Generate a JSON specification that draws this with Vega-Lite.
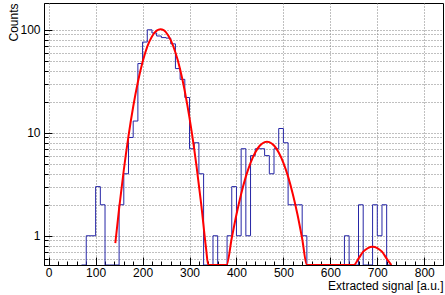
{
  "$schema": "https://vega.github.io/schema/vega-lite/v6.json",
  "width": 399,
  "height": 262,
  "autosize": {"type": "none"},
  "padding": {"left": 44, "top": 3, "right": 2, "bottom": 30},
  "background": "white",
  "config": {
    "view": {"stroke": "black", "strokeWidth": 1},
    "font": "Liberation Sans",
    "axis": {
      "labelFont": "Liberation Sans",
      "titleFont": "Liberation Sans",
      "labelFontSize": 12,
      "titleFontSize": 12,
      "titleFontWeight": "normal",
      "labelColor": "black",
      "titleColor": "black",
      "tickColor": "black",
      "domainColor": "black",
      "gridColor": "#808080",
      "gridDash": [1, 2],
      "gridWidth": 1,
      "gridOpacity": 1
    }
  },
  "datasets": {
    "hist": [
      {"signal": 70, "counts": 0}, {"signal": 80, "counts": 1}, {"signal": 90, "counts": 1},
      {"signal": 100, "counts": 3}, {"signal": 110, "counts": 2}, {"signal": 120, "counts": 0},
      {"signal": 130, "counts": 0}, {"signal": 140, "counts": 0}, {"signal": 150, "counts": 2},
      {"signal": 160, "counts": 4}, {"signal": 170, "counts": 9}, {"signal": 180, "counts": 13},
      {"signal": 190, "counts": 47}, {"signal": 200, "counts": 76}, {"signal": 210, "counts": 100},
      {"signal": 220, "counts": 93}, {"signal": 230, "counts": 87}, {"signal": 240, "counts": 84},
      {"signal": 250, "counts": 83}, {"signal": 260, "counts": 73}, {"signal": 270, "counts": 42},
      {"signal": 280, "counts": 33}, {"signal": 290, "counts": 22}, {"signal": 300, "counts": 7},
      {"signal": 310, "counts": 8}, {"signal": 320, "counts": 4}, {"signal": 330, "counts": 0},
      {"signal": 340, "counts": 0}, {"signal": 350, "counts": 1}, {"signal": 360, "counts": 0},
      {"signal": 370, "counts": 0}, {"signal": 380, "counts": 1}, {"signal": 390, "counts": 3},
      {"signal": 400, "counts": 1}, {"signal": 410, "counts": 7}, {"signal": 420, "counts": 1},
      {"signal": 430, "counts": 6}, {"signal": 440, "counts": 7}, {"signal": 450, "counts": 7},
      {"signal": 460, "counts": 6}, {"signal": 470, "counts": 4}, {"signal": 480, "counts": 7},
      {"signal": 490, "counts": 11}, {"signal": 500, "counts": 8}, {"signal": 510, "counts": 2},
      {"signal": 520, "counts": 2}, {"signal": 530, "counts": 2}, {"signal": 540, "counts": 1},
      {"signal": 550, "counts": 0}, {"signal": 560, "counts": 0}, {"signal": 570, "counts": 0},
      {"signal": 580, "counts": 0}, {"signal": 590, "counts": 0}, {"signal": 600, "counts": 0},
      {"signal": 610, "counts": 0}, {"signal": 620, "counts": 0}, {"signal": 630, "counts": 1},
      {"signal": 640, "counts": 0}, {"signal": 650, "counts": 0}, {"signal": 660, "counts": 2},
      {"signal": 670, "counts": 0}, {"signal": 680, "counts": 0}, {"signal": 690, "counts": 2},
      {"signal": 700, "counts": 1}, {"signal": 710, "counts": 2}, {"signal": 720, "counts": 0},
      {"signal": 730, "counts": 0}
    ],
    "fit": [
      {"signal": 142, "f": 0.85}, {"signal": 150, "f": 1.83}, {"signal": 160, "f": 4.35},
      {"signal": 170, "f": 9.29}, {"signal": 180, "f": 17.9}, {"signal": 190, "f": 31.1},
      {"signal": 200, "f": 48.6}, {"signal": 210, "f": 68.5}, {"signal": 220, "f": 86},
      {"signal": 230, "f": 98}, {"signal": 238, "f": 101}, {"signal": 245, "f": 99},
      {"signal": 255, "f": 87.5}, {"signal": 265, "f": 70}, {"signal": 275, "f": 50.5},
      {"signal": 285, "f": 32.7}, {"signal": 295, "f": 19}, {"signal": 305, "f": 9.96},
      {"signal": 315, "f": 4.71}, {"signal": 325, "f": 2.01}, {"signal": 335, "f": 0.77},
      {"signal": 340, "f": 0.46}, {"signal": 350, "f": 0.15}, {"signal": 365, "f": 0.1},
      {"signal": 372, "f": 0.28}, {"signal": 379, "f": 0.52}, {"signal": 390, "f": 0.95},
      {"signal": 400, "f": 1.61}, {"signal": 410, "f": 2.55}, {"signal": 420, "f": 3.75},
      {"signal": 430, "f": 5.11}, {"signal": 440, "f": 6.44}, {"signal": 450, "f": 7.52},
      {"signal": 460, "f": 8.12}, {"signal": 465, "f": 8.2}, {"signal": 470, "f": 8.12},
      {"signal": 480, "f": 7.52}, {"signal": 490, "f": 6.44}, {"signal": 500, "f": 5.11},
      {"signal": 510, "f": 3.75}, {"signal": 520, "f": 2.55}, {"signal": 530, "f": 1.61},
      {"signal": 540, "f": 0.935}, {"signal": 550, "f": 0.505}, {"signal": 560, "f": 0.25},
      {"signal": 600, "f": 0.05}, {"signal": 640, "f": 0.38}, {"signal": 650, "f": 0.5},
      {"signal": 660, "f": 0.6}, {"signal": 670, "f": 0.7}, {"signal": 680, "f": 0.76},
      {"signal": 690, "f": 0.78}, {"signal": 700, "f": 0.76}, {"signal": 710, "f": 0.7},
      {"signal": 720, "f": 0.6}, {"signal": 730, "f": 0.5}
    ]
  },
  "layer": [
    {
      "data": {"name": "hist"},
      "mark": {"type": "line", "interpolate": "step-after", "color": "#2626a6", "strokeWidth": 1, "invalid": "show", "clip": true},
      "encoding": {
        "x": {
          "field": "signal", "type": "quantitative",
          "scale": {"domain": [-10, 840], "nice": false, "zero": false},
          "axis": {
            "orient": "bottom",
            "values": [0, 100, 200, 300, 400, 500, 600, 700, 800],
            "format": "d",
            "title": "Extracted signal [a.u.]",
            "titleAnchor": "end", "titleAlign": "right", "titleBaseline": "alphabetic",
            "titleX": 399, "titleY": 24,
            "tickSize": -8, "labelPadding": 10,
            "grid": true, "labelFlush": false, "labelOverlap": false
          }
        },
        "y": {
          "field": "counts", "type": "quantitative",
          "scale": {"type": "log", "domain": [0.52, 182], "nice": false, "clamp": true},
          "axis": {
            "orient": "left",
            "values": [1, 10, 100],
            "format": "d",
            "title": "Counts",
            "titleAngle": -90, "titleAlign": "right", "titleBaseline": "alphabetic",
            "titleX": -27, "titleY": 0,
            "tickSize": -8, "labelPadding": 12,
            "grid": true, "labelFlush": false, "labelOverlap": false
          }
        }
      }
    },
    {
      "data": {"name": "fit"},
      "mark": {"type": "line", "interpolate": "monotone", "color": "#ff0000", "strokeWidth": 2, "invalid": "show", "clip": true},
      "encoding": {
        "x": {
          "field": "signal", "type": "quantitative",
          "axis": {
            "orient": "bottom",
            "values": [20, 40, 60, 80, 120, 140, 160, 180, 220, 240, 260, 280, 320, 340, 360, 380, 420, 440, 460, 480, 520, 540, 560, 580, 620, 640, 660, 680, 720, 740, 760, 780, 820],
            "labels": false, "title": null, "grid": false, "domain": false, "tickSize": -4
          }
        },
        "y": {
          "field": "f", "type": "quantitative",
          "axis": {
            "orient": "left",
            "values": [0.6, 0.7, 0.8, 0.9, 2, 3, 4, 5, 6, 7, 8, 9, 20, 30, 40, 50, 60, 70, 80, 90],
            "labels": false, "title": null, "grid": true, "domain": false, "tickSize": -4
          }
        }
      }
    }
  ],
  "resolve": {"axis": {"x": "independent", "y": "independent"}}
}
